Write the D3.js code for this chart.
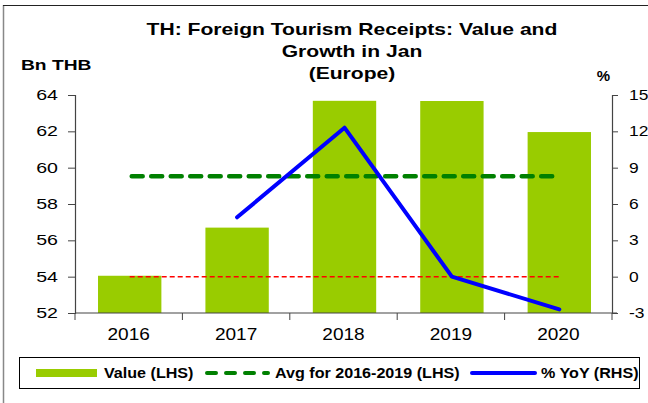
<!DOCTYPE html>
<html>
<head>
<meta charset="utf-8">
<script src="https://cdn.jsdelivr.net/npm/d3@7"></script>
<style>
  body { margin: 0; background: #fff; }
  svg { font-family: Arial, "Liberation Sans", sans-serif; }
</style>
</head>
<body>
<div id="chart"></div>
<script>
// data
let years = ["2016", "2017", "2018", "2019", "2020"];
let values = [54.05, 56.7, 63.68, 63.67, 61.96];     // Bn THB (LHS)
let avgValue = 59.53;                                 // avg 2016-2019 (LHS)
let yoy = [null, 4.9, 12.3, 0.0, -2.7];               // % YoY (RHS)
let leftTicks = [52, 54, 56, 58, 60, 62, 64];
let rightTicks = [-3, 0, 3, 6, 9, 12, 15];
let titleLines = ["TH: Foreign Tourism Receipts: Value and", "Growth in Jan", "(Europe)"];

let W = 648, H = 403;
let plot = {left: 75, right: 612, top: 95, bottom: 313};

let svg = d3.select("#chart").append("svg")
    .attr("width", W)
    .attr("height", H);

// the reference text is drawn wider than normal, so stretch it horizontally
function stretch(sel, f) {
    sel.each(function() {
        let w = this.getComputedTextLength();
        d3.select(this).attr("textLength", w * f).attr("lengthAdjust", "spacingAndGlyphs");
    });
}

// frame lines (top and left)
svg.append("line").attr("x1", 3.5).attr("x2", 3.5).attr("y1", 5).attr("y2", H)
    .attr("stroke", "#888").attr("stroke-width", 1.5);
svg.append("line").attr("x1", 3).attr("x2", W).attr("y1", 5.5).attr("y2", 5.5)
    .attr("stroke", "#222").attr("stroke-width", 1);

// scales
let x = d3.scaleBand().domain(years).range([plot.left, plot.right]).padding(0);
let yL = d3.scaleLinear().domain([52, 64]).range([plot.bottom, plot.top]);
let yR = d3.scaleLinear().domain([-3, 15]).range([plot.bottom, plot.top]);
let barW = x.bandwidth() * 0.59;
let cx = function(d) { return x(d) + x.bandwidth() / 2 + 1; };

// bars
svg.selectAll(".bar")
    .data(years)
    .enter().append("rect")
    .attr("class", "bar")
    .attr("x", function(d) { return cx(d) - barW / 2; })
    .attr("width", barW)
    .attr("y", function(d, i) { return yL(values[i]); })
    .attr("height", function(d, i) { return yL(52) - yL(values[i]); })
    .attr("fill", "#99cc00");

// zero line (RHS) red dashed
svg.append("line")
    .attr("x1", cx(years[0])).attr("x2", cx(years[4]))
    .attr("y1", yR(0)).attr("y2", yR(0))
    .attr("stroke", "#ff0000").attr("stroke-width", 1.5)
    .attr("stroke-dasharray", "5,3");

// average line
svg.append("line")
    .attr("x1", cx(years[0]) + 2).attr("x2", cx(years[4]))
    .attr("y1", yL(avgValue)).attr("y2", yL(avgValue))
    .attr("stroke", "#008000").attr("stroke-width", 4.5)
    .attr("stroke-linecap", "round")
    .attr("stroke-dasharray", "11,8.5");

// yoy line
let line = d3.line()
    .defined(function(d) { return d.v !== null; })
    .x(function(d) { return cx(d.year); })
    .y(function(d) { return yR(d.v); });
svg.append("path")
    .datum(years.map(function(y, i) { return {year: y, v: yoy[i]}; }))
    .attr("d", line)
    .attr("fill", "none")
    .attr("stroke", "#0000ff")
    .attr("stroke-width", 4)
    .attr("stroke-linecap", "round")
    .attr("stroke-linejoin", "round");

// axes
let axisColor = "#444";
let plain = function(d) { return String(d); };
let gL = svg.append("g")
    .attr("transform", "translate(" + plot.left + ",0)")
    .call(d3.axisLeft(yL).tickValues(leftTicks).tickFormat(plain).tickSize(7).tickPadding(10));
let gR = svg.append("g")
    .attr("transform", "translate(" + plot.right + ",0)")
    .call(d3.axisRight(yR).tickValues(rightTicks).tickFormat(plain).tickSize(6).tickPadding(11));
let gX = svg.append("g")
    .attr("transform", "translate(0," + plot.bottom + ")")
    .call(d3.axisBottom(x).tickSize(0).tickPadding(15));

// x ticks at band edges
gX.selectAll(".edge")
    .data(years.concat(["end"]))
    .enter().append("line")
    .attr("class", "edge")
    .attr("x1", function(d) { return d === "end" ? plot.right : x(d); })
    .attr("x2", function(d) { return d === "end" ? plot.right : x(d); })
    .attr("y1", 0).attr("y2", 7)
    .attr("stroke", axisColor);

[gL, gR, gX].forEach(function(g) {
    g.selectAll("path.domain").attr("stroke", axisColor).attr("stroke-width", 1.2);
    g.selectAll(".tick line").attr("stroke", axisColor);
    g.selectAll("text").attr("fill", "#000")
        .style("font-family", "Arial, 'Liberation Sans', sans-serif")
        .style("font-size", "14.5px");
});
gX.select("path.domain").attr("d", "M" + plot.left + ",0H" + (plot.right + 5));
gX.selectAll("text").style("font-size", "17px");
stretch(gL.selectAll("text"), 1.35);
stretch(gR.selectAll("text"), 1.2);
stretch(gX.selectAll("text"), 1.12);

// title
let title = svg.selectAll(".title")
    .data(titleLines)
    .enter().append("text")
    .attr("class", "title")
    .attr("x", 352)
    .attr("y", function(d, i) { return 35 + i * 22; })
    .attr("text-anchor", "middle")
    .style("font-size", "17px")
    .style("font-weight", "bold")
    .text(function(d) { return d; });
stretch(title, 1.24);

// axis unit labels
let unitL = svg.append("text").attr("x", 21).attr("y", 70)
    .style("font-size", "15px").style("font-weight", "bold").text("Bn THB");
let unitR = svg.append("text").attr("x", 603.5).attr("y", 81).attr("text-anchor", "middle")
    .style("font-size", "15px").style("font-weight", "bold").text("%");
stretch(unitL, 1.28);

// legend
let legend = svg.append("g");
legend.append("rect")
    .attr("x", 19.5).attr("y", 357.5).attr("width", 620).attr("height", 31)
    .attr("fill", "#fff").attr("stroke", "#000").attr("stroke-width", 1);
let ly = 373;
legend.append("rect").attr("x", 36).attr("y", ly - 4).attr("width", 61).attr("height", 8)
    .attr("fill", "#99cc00");
legend.append("line").attr("x1", 207).attr("x2", 268).attr("y1", ly).attr("y2", ly)
    .attr("stroke", "#008000").attr("stroke-width", 4)
    .attr("stroke-linecap", "round").attr("stroke-dasharray", "9,10");
legend.append("line").attr("x1", 472).attr("x2", 535).attr("y1", ly).attr("y2", ly)
    .attr("stroke", "#0000ff").attr("stroke-width", 4).attr("stroke-linecap", "round");
let legendLabels = [
    {x: 104, text: "Value (LHS)"},
    {x: 275, text: "Avg for 2016-2019 (LHS)"},
    {x: 541, text: "% YoY (RHS)"}
];
let ltext = legend.selectAll(".ltext")
    .data(legendLabels)
    .enter().append("text")
    .attr("class", "ltext")
    .attr("x", function(d) { return d.x; })
    .attr("y", ly + 5)
    .style("font-size", "14px")
    .style("font-weight", "bold")
    .text(function(d) { return d.text; });
stretch(ltext, 1.15);
</script>
</body>
</html>
